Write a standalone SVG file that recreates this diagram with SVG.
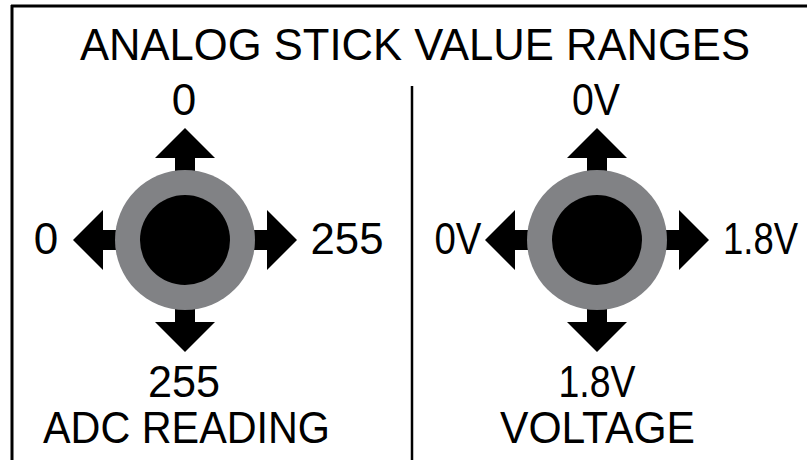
<svg xmlns="http://www.w3.org/2000/svg" xmlns:xlink="http://www.w3.org/1999/xlink" width="807" height="460" viewBox="0 0 807 460">
<style>
  text { font-family: "Liberation Sans", Arial, sans-serif; font-size: 44px; fill: #000; text-anchor: middle; }
  .frame { stroke: #000; stroke-width: 3; fill: none; }
  .ring { fill: #818285; }
  .knob { fill: #000; }
</style>
<defs>
  <path id="arrow" d="M -10 -60 L -10 -82 L -30 -82 L 0 -112 L 30 -82 L 10 -82 L 10 -60 Z" fill="#000"/>
</defs>
<rect width="807" height="460" fill="#fff"/>
<g id="frame">
  <line class="frame" x1="11" y1="6" x2="807" y2="6"/>
  <line class="frame" x1="12" y1="5" x2="12" y2="460"/>
  <line x1="412" y1="86" x2="412" y2="460" stroke="#000" stroke-width="2.5"/>
</g>
<g id="title">
  <text x="415" y="60" textLength="670" lengthAdjust="spacingAndGlyphs">ANALOG STICK VALUE RANGES</text>
</g>
<g id="adc-stick">
  <use xlink:href="#arrow" transform="translate(185,240)"/>
  <use xlink:href="#arrow" transform="translate(185,240) rotate(90)"/>
  <use xlink:href="#arrow" transform="translate(185,240) rotate(180)"/>
  <use xlink:href="#arrow" transform="translate(185,240) rotate(270)"/>
  <circle class="ring" cx="185" cy="240" r="70"/>
  <circle class="knob" cx="185" cy="240" r="45"/>
  <text x="184" y="115">0</text>
  <text x="46" y="254">0</text>
  <text x="347" y="254" textLength="73" lengthAdjust="spacingAndGlyphs">255</text>
  <text x="184" y="397" textLength="72" lengthAdjust="spacingAndGlyphs">255</text>
  <text x="186.5" y="443" textLength="287" lengthAdjust="spacingAndGlyphs">ADC READING</text>
</g>
<g id="voltage-stick">
  <use xlink:href="#arrow" transform="translate(597,240)"/>
  <use xlink:href="#arrow" transform="translate(597,240) rotate(90)"/>
  <use xlink:href="#arrow" transform="translate(597,240) rotate(180)"/>
  <use xlink:href="#arrow" transform="translate(597,240) rotate(270)"/>
  <circle class="ring" cx="597" cy="240" r="70"/>
  <circle class="knob" cx="597" cy="240" r="45"/>
  <text x="596" y="115" textLength="48" lengthAdjust="spacingAndGlyphs">0V</text>
  <text x="458" y="254" textLength="47" lengthAdjust="spacingAndGlyphs">0V</text>
  <text x="798" y="254" style="text-anchor:end" textLength="75" lengthAdjust="spacingAndGlyphs">1.8V</text>
  <text x="597" y="397" textLength="77" lengthAdjust="spacingAndGlyphs">1.8V</text>
  <text x="597.5" y="443" textLength="195" lengthAdjust="spacingAndGlyphs">VOLTAGE</text>
</g>
</svg>
